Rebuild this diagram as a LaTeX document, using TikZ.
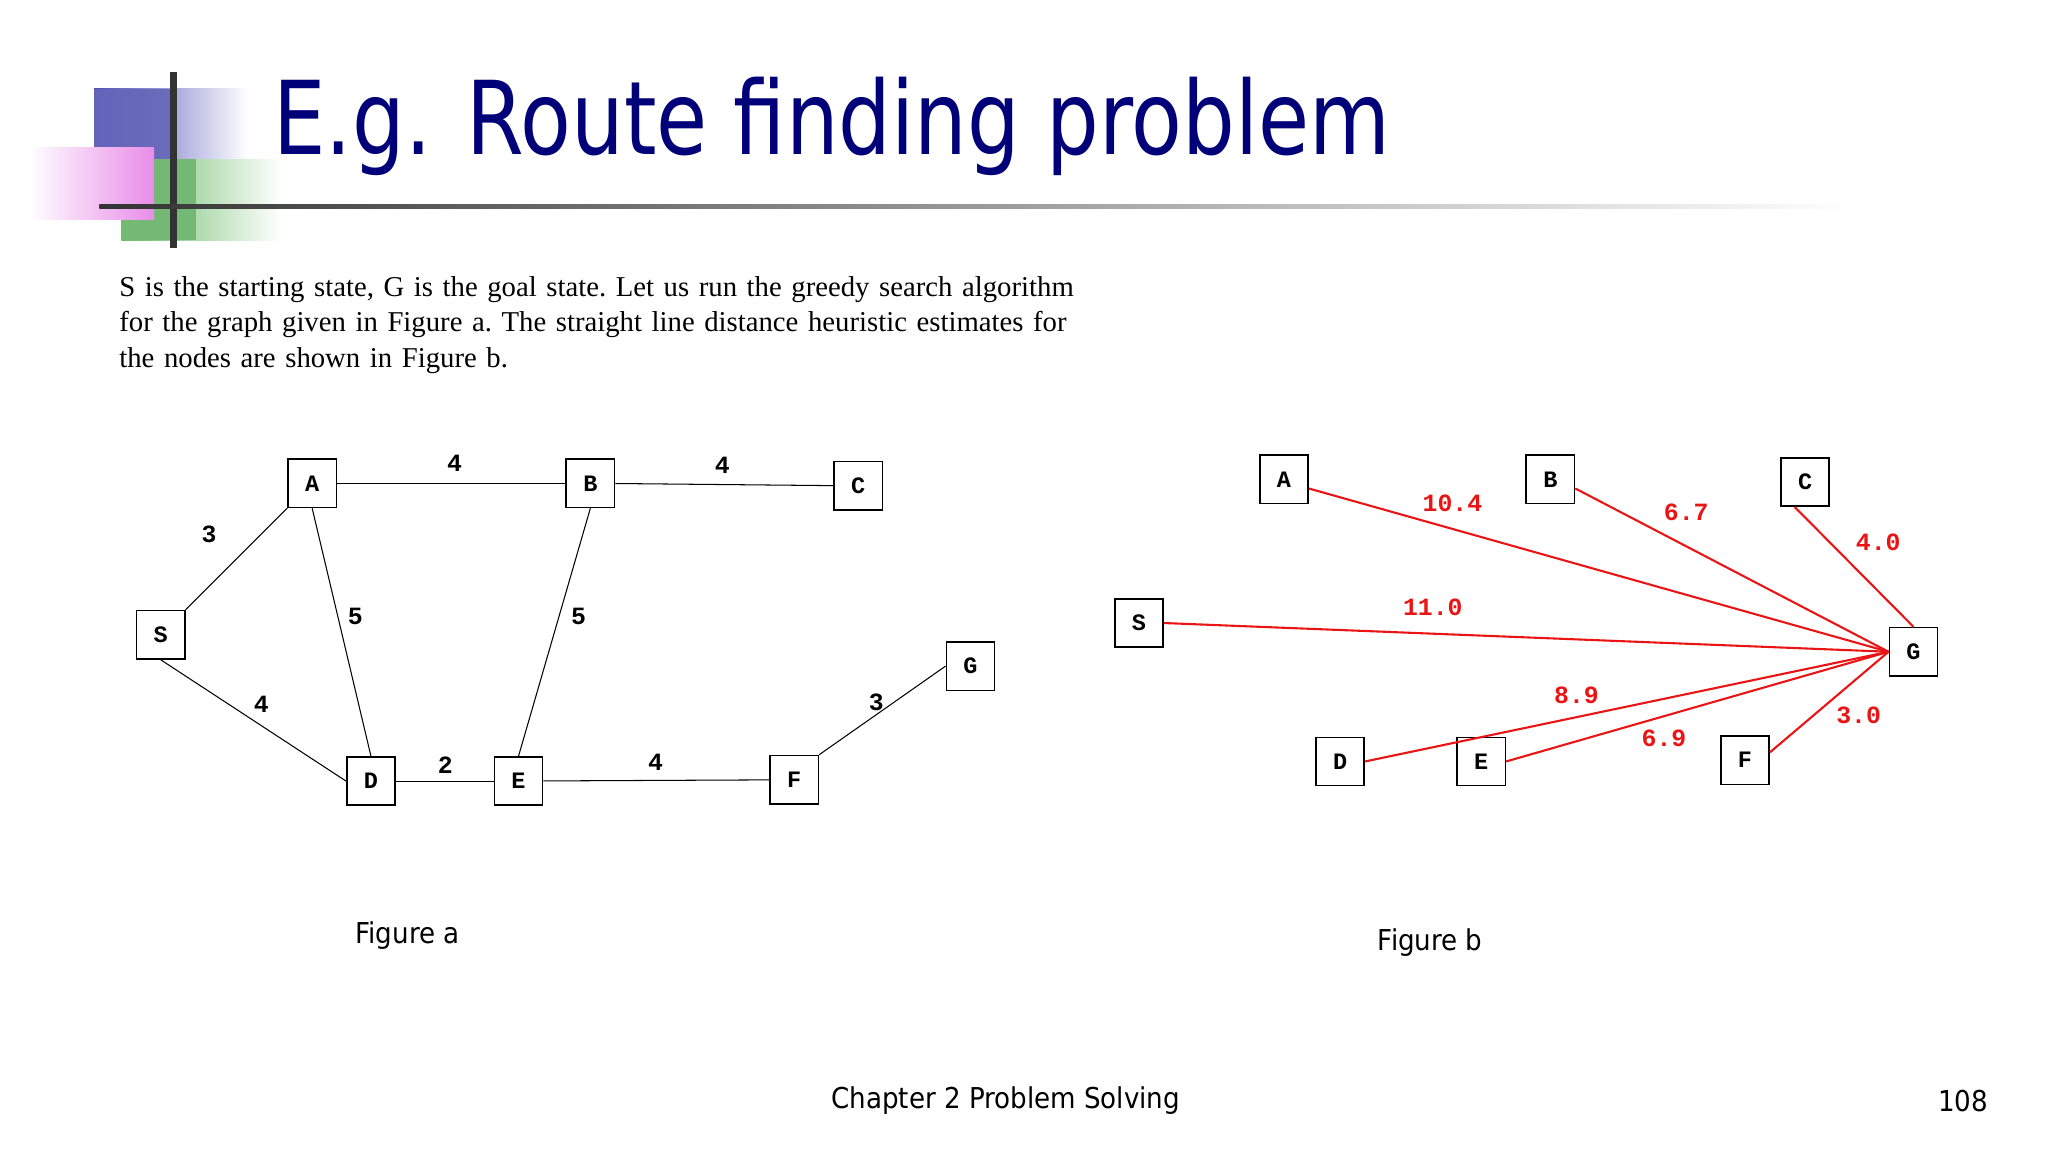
\documentclass[tikz,border=0pt]{standalone}
\usepackage{fontspec}
\setmainfont{Liberation Serif}
\newfontfamily\tah{DejaVu Sans}
\newfontfamily\mono{Liberation Mono}
\usetikzlibrary{shadings}
\definecolor{navy}{RGB}{0,0,120}
\definecolor{rd}{RGB}{235,20,20}
\begin{document}
\begin{tikzpicture}[x=0.5pt,y=-0.5pt,
 box/.style={draw,line width=0.6pt,minimum width=18.5pt,minimum height=18.5pt,inner sep=0pt,font=\mono\bfseries\fontsize{9}{9}\selectfont,fill=white},
 lab/.style={font=\mono\bfseries\fontsize{9.5}{9.5}\selectfont},
 rlab/.style={font=\mono\bfseries\fontsize{9.5}{9.5}\selectfont,text=rd},
 tahtxt/.style={xscale=0.91,font=\tah\fontsize{11}{11}\selectfont},
 ed/.style={line width=0.4pt},
 red/.style={draw=rd,line width=0.8pt}]
\useasboundingbox (0,0) rectangle (1568,882);
% decoration
\shade[left color=blue!60!black!70!white, right color=white] (72,68) rectangle (190,122);
\fill[blue!55!black!60!white,opacity=0.9] (72,68) rectangle (132,122);
\shade[left color=green!55!black!60!white, right color=white] (93,122) rectangle (215,184);
\fill[green!50!black!55!white] (93,122) rectangle (150,184);
\shade[left color=white, right color=violet!40!magenta!45!white] (22,113) rectangle (118,168);
\draw[line width=2.5pt,black!80] (133,55) -- (133,190);
\shade[left color=black!80,right color=white] (76,156.5) rectangle (1420,160);
\node[anchor=base west,inner sep=0,text=navy,xscale=0.815,font=\tah\fontsize{39}{39}\selectfont] (title) at (209,118) {E.g. Route finding problem};
\node[anchor=north west,inner sep=0,align=left,font=\fontsize{11}{13.7}\selectfont\frenchspacing,text width=400pt] (body) at (91,211)
 {S is the starting state, G is the goal state. Let us run the greedy search algorithm\\for the graph given in Figure a. The straight line distance heuristic estimates for\\the nodes are shown in Figure b.};
% figure a
\node[box] (A) at (239,370) {A};
\node[box] (B) at (452,370) {B};
\node[box] (C) at (657,372) {C};
\node[box] (S) at (123,486) {S};
\node[box] (G) at (743,510) {G};
\node[box] (D) at (284,598) {D};
\node[box] (E) at (397,598) {E};
\node[box] (F) at (608,597) {F};
\draw[ed] (A) -- (B); \draw[ed] (B) -- (C);
\draw[ed] (S.north east) -- (A.south west);
\draw[ed] (A.south) -- (D.north);
\draw[ed] (B.south) -- (E.north);
\draw[ed] (S.south) -- (D.west);
\draw[ed] (D) -- (E); \draw[ed] (E) -- (F);
\draw[ed] (F.north east) -- (G.west);
\node[lab] (l1) at (348,355) {4};
\node[lab] (l2) at (553,356) {4};
\node[lab] (l3) at (160,409) {3};
\node[lab] (l4) at (272,472) {5};
\node[lab] (l5) at (443,472) {5};
\node[lab] (l6) at (200,539) {4};
\node[lab] (l7) at (341,586) {2};
\node[lab] (l8) at (502,584) {4};
\node[lab] (l9) at (671,538) {3};
\node[tahtxt] (fa) at (312,716) {Figure a};
% figure b
\node[box] (bG) at (1465,499) {G};
\node[box] (bA) at (983,367) {A};
\node[box] (bB) at (1187,367) {B};
\node[box] (bC) at (1382,369) {C};
\node[box] (bS) at (872,477) {S};
\node[box] (bD) at (1026,583) {D};
\node[box] (bE) at (1134,583) {E};
\node[box] (bF) at (1336,582) {F};
\draw[red] (bA.east) ++(0,7) -- (bG.west);
\draw[red] (bB.east) ++(0,7) -- (bG.west);
\draw[red] (bC.south) ++(-8,0) -- (bG.north);
\draw[red] (bS.east) -- (bG.west);
\draw[red] (bD.east) -- (bG.west);
\draw[red] (bE.east) -- (bG.west);
\draw[red] (bF.east) ++(0,-6) -- (bG.west);
\node[rlab] (r1) at (1112,385) {10.4};
\node[rlab] (r2) at (1291,392) {6.7};
\node[rlab] (r3) at (1438,415) {4.0};
\node[rlab] (r4) at (1097,465) {11.0};
\node[rlab] (r5) at (1207,532) {8.9};
\node[rlab] (r6) at (1274,565) {6.9};
\node[rlab] (r7) at (1423,548) {3.0};
\node[tahtxt] (fb) at (1095,722) {Figure b};
% footer
\node[tahtxt] (ft) at (770,843) {Chapter 2 Problem Solving};
\node[tahtxt] (pg) at (1503,843) {108};
\end{tikzpicture}
\end{document}
